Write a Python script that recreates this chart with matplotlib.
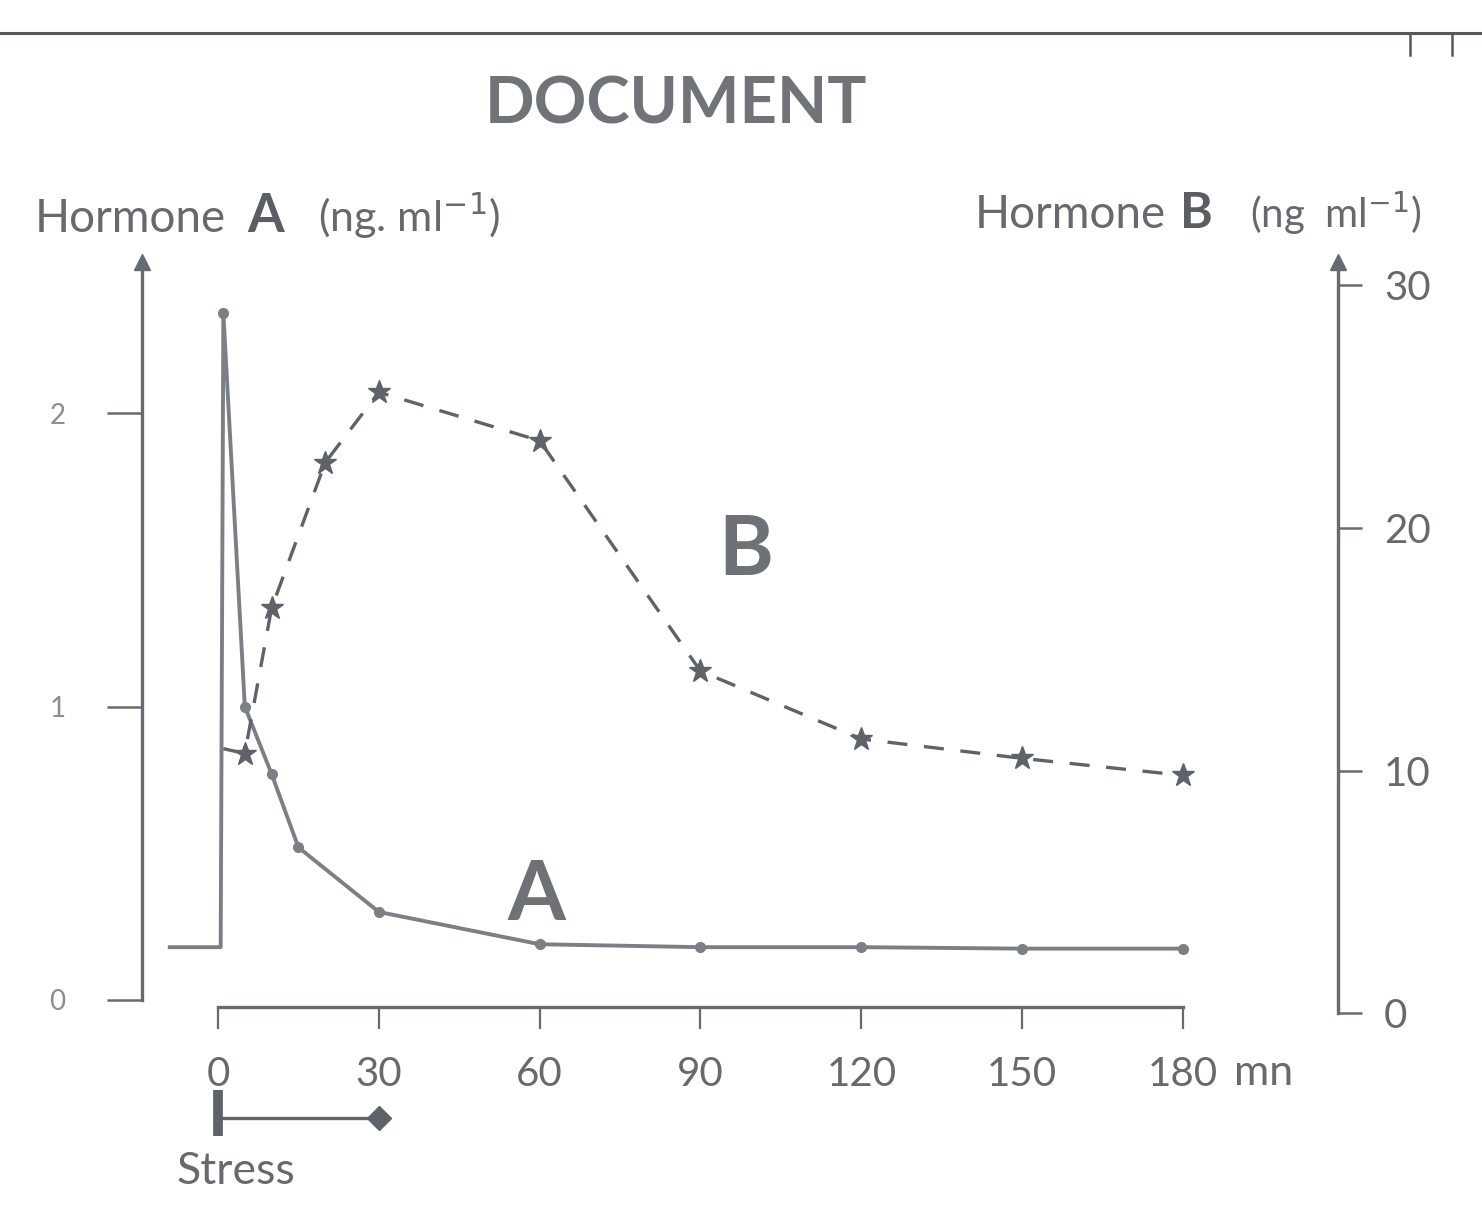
import matplotlib
matplotlib.use("Agg")
import matplotlib.pyplot as plt
from matplotlib.lines import Line2D

# ---------------- data ----------------
a_time = [-9, 0.5, 1, 5, 10, 15, 30, 60, 90, 120, 150, 180]
a_value = [0.18, 0.18, 2.34, 1.0, 0.77, 0.52, 0.30, 0.19, 0.18, 0.18, 0.175, 0.175]
a_marked = [2, 3, 4, 5, 6, 7, 8, 9, 10, 11]

b_time = [1, 5, 10, 20, 30, 60, 90, 120, 150, 180]
b_value = [10.9, 10.7, 16.7, 22.7, 25.6, 23.6, 14.1, 11.3, 10.5, 9.8]
b_marked = [1, 2, 3, 4, 5, 6, 7, 8, 9]

x_ticks = [0, 30, 60, 90, 120, 150, 180]
x_ticklabels = ["0", "30", "60", "90", "120", "150", "180"]
a_ticks = [0, 1, 2]
a_ticklabels = ["0", "1", "2"]
b_ticks = [0, 10, 20, 30]
b_ticklabels = ["0", "10", "20", "30"]

stress_start, stress_end = 0, 30

# ---------------- style ----------------
FONT = ["Lato", "DejaVu Sans"]
plt.rcParams["font.family"] = FONT
W, H = 1482, 1231
AX_COL = "#666b71"
A_COL = "#7b8086"
B_COL = "#5e6369"
TXT = "#666a6e"

fig = plt.figure(figsize=(W / 100, H / 100), dpi=100)
fig.patch.set_facecolor("white")

def fx(px):
    return px / W

def fy(py):
    return 1 - py / H

# axes box: x from px 142 to 1338, y from px 262 to 1013
ax = fig.add_axes([fx(142), fy(1013), (1338 - 142) / W, (1013 - 262) / H])
ax.set_facecolor("none")
ax.set_xlim(-76 / 5.361, 1120 / 5.361)
ax.set_ylim(-13 / 293.5, 738 / 293.5)

axb = ax.twinx()
axb.set_ylim(0, 751 / 24.25)

for s in ["top", "right"]:
    ax.spines[s].set_visible(False)
for s in ["top", "left", "bottom"]:
    axb.spines[s].set_visible(False)

lw_ax = 2.4
ax.spines["left"].set_bounds(0, 738 / 293.5)
ax.spines["left"].set_color(AX_COL)
ax.spines["left"].set_linewidth(lw_ax)
ax.spines["bottom"].set_position(("data", -7 / 293.5))
ax.spines["bottom"].set_bounds(0, 180)
ax.spines["bottom"].set_color(AX_COL)
ax.spines["bottom"].set_linewidth(lw_ax)
axb.spines["right"].set_bounds(0, 751 / 24.25)
axb.spines["right"].set_color(AX_COL)
axb.spines["right"].set_linewidth(lw_ax)

ax.set_xticks(x_ticks)
ax.set_xticklabels(x_ticklabels)
ax.tick_params(axis="x", direction="out", length=16, width=1.6, color=AX_COL,
               labelsize=29, labelcolor=TXT, pad=19)
ax.set_yticks(a_ticks)
ax.set_yticklabels(a_ticklabels)
ax.tick_params(axis="y", direction="out", length=25, width=1.8, color=AX_COL,
               labelsize=20, labelcolor="#8a8e92", pad=30)
axb.set_yticks(b_ticks)
axb.set_yticklabels(b_ticklabels)
axb.tick_params(axis="y", direction="out", length=17, width=1.8, color=AX_COL,
                labelsize=29, labelcolor=TXT, pad=16)

# axis arrows
ax.plot([0], [1], marker="^", markersize=11, color=AX_COL, transform=ax.transAxes,
        clip_on=False)
axb.plot([1], [1], marker="^", markersize=11, color=AX_COL, transform=axb.transAxes,
         clip_on=False)

# curve A
ax.plot(a_time, a_value, color=A_COL, lw=2.8, marker="o", markersize=7,
        markevery=a_marked, clip_on=False, solid_joinstyle="round", zorder=3)
# curve B
axb.plot(b_time, b_value, color=B_COL, lw=2.4, linestyle=(0, (6, 5)), marker="*",
         markersize=17, markevery=b_marked, clip_on=False, zorder=3)

# stress bar
y_stress = -118 / 293.5
ax.plot([stress_start, stress_end], [y_stress, y_stress], color=B_COL, lw=2.4,
        clip_on=False)
ax.plot([stress_start, stress_start], [-90 / 293.5, -136 / 293.5], color=B_COL,
        lw=7, clip_on=False, solid_capstyle="butt")
ax.plot([stress_end], [y_stress], marker="D", markersize=12, color=B_COL,
        clip_on=False)

# texts
fig.text(fx(676), fy(105), "DOCUMENT", ha="center", va="center", fontsize=47,
         fontweight="bold", color="#707478")
fig.text(fx(35), fy(232), "Hormone", ha="left", va="baseline", fontsize=33, color=TXT)
fig.text(fx(247), fy(232), "A", ha="left", va="baseline", fontsize=38,
         fontweight="bold", color="#5a5e62")
fig.text(fx(318), fy(232), "(ng. ml$^{-1}$)", ha="left", va="baseline", fontsize=31,
         color=TXT)
fig.text(fx(975), fy(228), "Hormone", ha="left", va="baseline", fontsize=33, color=TXT)
fig.text(fx(1180), fy(228), "B", ha="left", va="baseline", fontsize=36,
         fontweight="bold", color="#5a5e62")
fig.text(fx(1250), fy(228), "(ng  ml$^{-1}$)", ha="left", va="baseline", fontsize=29,
         color=TXT)
fig.text(fx(1234), fy(1073), "mn", ha="left", va="center", fontsize=31, color=TXT)
fig.text(fx(236), fy(1172), "Stress", ha="center", va="center", fontsize=32, color=TXT)
fig.text(fx(536), fy(896), "A", ha="center", va="center", fontsize=60,
         fontweight="bold", color="#6e7276")
fig.text(fx(746), fy(551), "B", ha="center", va="center", fontsize=60,
         fontweight="bold", color="#6e7276")

# top rule of the document
fig.add_artist(Line2D([0, 1], [fy(33), fy(33)], color="#55595d", lw=2.2))
for px in (1410, 1452):
    fig.add_artist(Line2D([fx(px), fx(px)], [fy(33), fy(55)], color="#55595d", lw=1.8))

fig.savefig("out.png", dpi=100, facecolor="white")
